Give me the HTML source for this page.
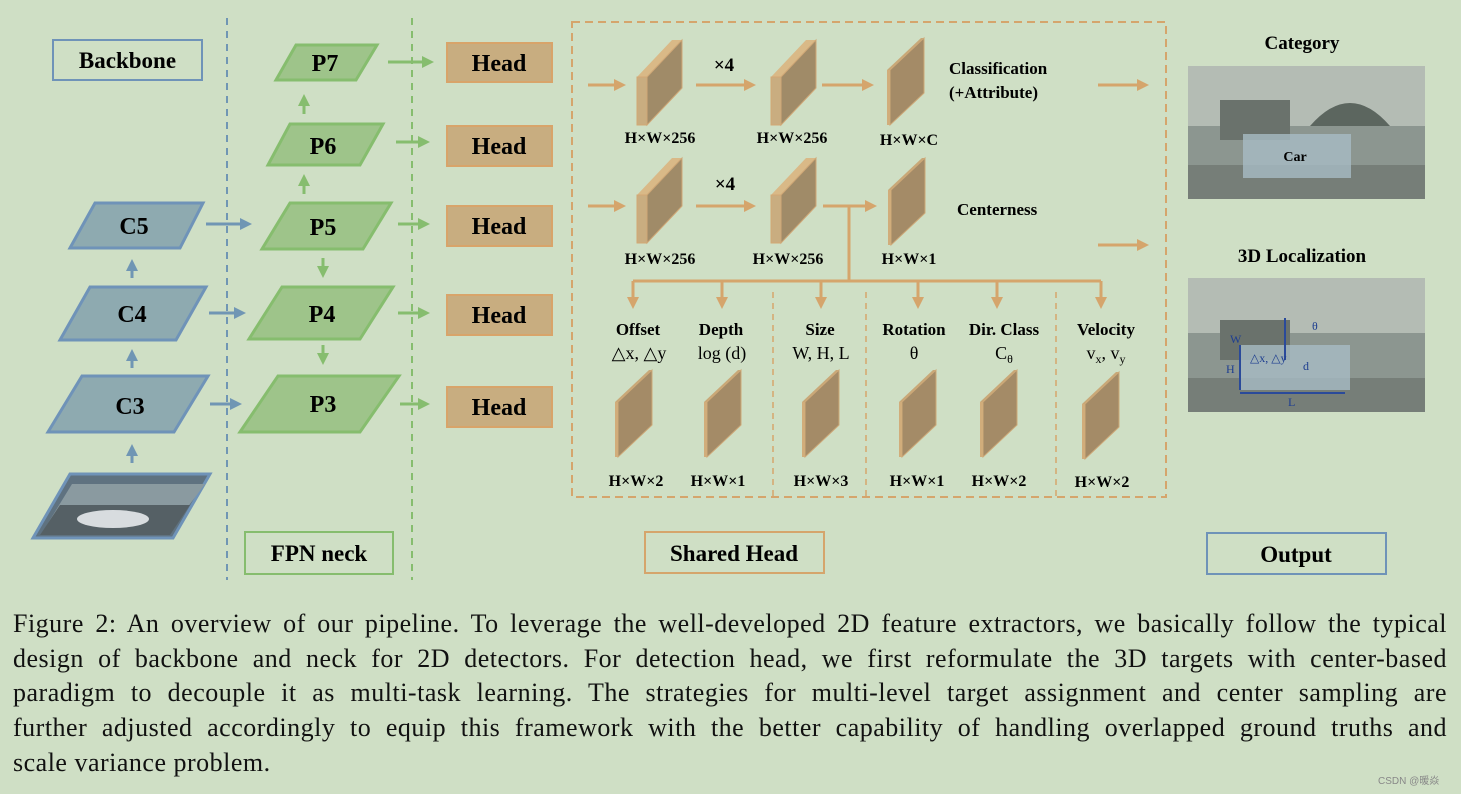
<!DOCTYPE html>
<html><head><meta charset="utf-8"><style>
html,body{margin:0;padding:0;background:#cfdfc5;}
svg{display:block}
.b{font-family:"Liberation Serif",serif;font-weight:bold;}
.cap{position:absolute;left:13px;top:607px;width:1434px;font-family:"Liberation Serif",serif;font-size:26px;line-height:34.7px;color:#111;letter-spacing:0.5px;}
.cap div{text-align:justify;text-align-last:justify;white-space:nowrap;}
.cap div.l{text-align-last:left;}
</style></head><body>
<div style="position:relative;width:1461px;height:794px;overflow:hidden;background:#cfdfc5">
<svg width="1461" height="600" viewBox="0 0 1461 600">
<defs>
<marker id="ga" markerWidth="4" markerHeight="4" refX="2" refY="2" orient="auto" markerUnits="strokeWidth"><path d="M0,0L4,2L0,4z" fill="#86bd6e"/></marker>
<marker id="ba" markerWidth="4" markerHeight="4" refX="2" refY="2" orient="auto" markerUnits="strokeWidth"><path d="M0,0L4,2L0,4z" fill="#7096b4"/></marker>
<marker id="oa" markerWidth="4" markerHeight="4" refX="2" refY="2" orient="auto" markerUnits="strokeWidth"><path d="M0,0L4,2L0,4z" fill="#d5a56c"/></marker>
<g id="pl"><path d="M0,32L3,32L37,0L34,0Z" fill="#c8a878"/><path d="M3,32L37,0L37,55L3,87Z" fill="#a48b67" stroke="#cda877" stroke-width="1"/><path d="M0,32L3,32L3,87L0,87Z" fill="#d1ad7b"/></g>
<g id="pr"><path d="M0,37L10,37L45,0L35,0Z" fill="#d9b987"/><path d="M0,37L10,37L10,85L0,85Z" fill="#c9ad80" stroke="#d2a874"/><path d="M10,37L45,0L45,48L10,85Z" fill="#a08b68" stroke="#cfa776"/></g>
</defs>
<line x1="227" y1="18" x2="227" y2="580" stroke="#7096b4" stroke-width="2" stroke-dasharray="7,6"/>
<line x1="412" y1="18" x2="412" y2="580" stroke="#86bd6e" stroke-width="2" stroke-dasharray="7,6"/>
<rect x="53" y="40" width="149" height="40" fill="none" stroke="#6f93b8" stroke-width="2"/>
<text x="127.5" y="68" class="b" font-size="23" text-anchor="middle">Backbone</text>
<rect x="245" y="532" width="148" height="42" fill="none" stroke="#86bd6e" stroke-width="2"/>
<text x="319" y="561" class="b" font-size="23" text-anchor="middle">FPN neck</text>
<rect x="645" y="532" width="179" height="41" fill="none" stroke="#d5a56c" stroke-width="2"/>
<text x="734" y="561" class="b" font-size="23" text-anchor="middle">Shared Head</text>
<rect x="1207" y="533" width="179" height="41" fill="none" stroke="#6f93b8" stroke-width="2"/>
<text x="1296" y="562" class="b" font-size="23" text-anchor="middle">Output</text>
<g fill="#8eaab0" stroke="#6f93b8" stroke-width="3">
<path d="M70,248L95,203L203,203L180,248Z"/>
<path d="M60,340L90,287L206,287L176,340Z"/>
<path d="M48,432L82,376L208,376L174,432Z"/>
</g>
<path d="M33,538L70,474L210,474L173,538Z" fill="#5f7280" stroke="#6f93b8" stroke-width="3"/>
<path d="M45,528L72,484L205,484L172,528Z" fill="#8a9aa0"/>
<path d="M40,535L60,505L190,505L170,535Z" fill="#556065"/>
<ellipse cx="113" cy="519" rx="36" ry="9" fill="#d8dcdf"/>
<g class="b" font-size="24" text-anchor="middle">
<text x="134" y="234">C5</text><text x="132" y="322">C4</text><text x="130" y="414">C3</text>
</g>
<g stroke="#7096b4" stroke-width="3" fill="none" marker-end="url(#ba)">
<line x1="132" y1="463" x2="132" y2="450"/>
<line x1="132" y1="368" x2="132" y2="355"/>
<line x1="132" y1="278" x2="132" y2="265"/>
<line x1="206" y1="224" x2="246" y2="224"/>
<line x1="209" y1="313" x2="240" y2="313"/>
<line x1="210" y1="404" x2="236" y2="404"/>
</g>
<g fill="#9ec48a" stroke="#86bd6e" stroke-width="3">
<path d="M276,80L296,45L377,45L356,80Z"/>
<path d="M268,165L290,124L383,124L360,165Z"/>
<path d="M262,249L290,203L391,203L363,249Z"/>
<path d="M249,339L282,287L393,287L360,339Z"/>
<path d="M240,432L278,376L399,376L360,432Z"/>
</g>
<g class="b" font-size="24" text-anchor="middle">
<text x="325" y="71">P7</text><text x="323" y="154">P6</text><text x="323" y="235">P5</text><text x="322" y="322">P4</text><text x="323" y="412">P3</text>
</g>
<g stroke="#86bd6e" stroke-width="3" fill="none" marker-end="url(#ga)">
<line x1="304" y1="114" x2="304" y2="100"/>
<line x1="304" y1="194" x2="304" y2="180"/>
<line x1="323" y1="258" x2="323" y2="272"/>
<line x1="323" y1="345" x2="323" y2="359"/>
<line x1="388" y1="62" x2="428" y2="62"/>
<line x1="396" y1="142" x2="424" y2="142"/>
<line x1="398" y1="224" x2="424" y2="224"/>
<line x1="398" y1="313" x2="424" y2="313"/>
<line x1="400" y1="404" x2="424" y2="404"/>
</g>
<g fill="#c8ad80" stroke="#d8a46a" stroke-width="2">
<rect x="447" y="43" width="105" height="39"/><rect x="447" y="126" width="105" height="40"/>
<rect x="447" y="206" width="105" height="40"/><rect x="447" y="295" width="105" height="40"/>
<rect x="447" y="387" width="105" height="40"/>
</g>
<g class="b" font-size="24" text-anchor="middle">
<text x="499" y="71">Head</text><text x="499" y="154">Head</text><text x="499" y="234">Head</text><text x="499" y="323">Head</text><text x="499" y="415">Head</text>
</g>
<rect x="572" y="22" width="594" height="475" fill="none" stroke="#d5a56c" stroke-width="2" stroke-dasharray="8,5"/>
<g stroke="#d5a56c" stroke-dasharray="6,5" stroke-width="1.5">
<line x1="773" y1="292" x2="773" y2="497"/><line x1="866" y1="292" x2="866" y2="497"/><line x1="1056" y1="292" x2="1056" y2="497"/>
</g>
<use href="#pr" x="637" y="40"/><use href="#pr" x="771" y="40"/>
<use href="#pr" x="637" y="158"/><use href="#pr" x="771" y="158"/>
<use href="#pl" x="887" y="38"/><use href="#pl" x="888" y="158"/>
<g stroke="#d5a56c" stroke-width="3" fill="none" marker-end="url(#oa)">
<line x1="588" y1="85" x2="620" y2="85"/><line x1="696" y1="85" x2="750" y2="85"/>
<line x1="822" y1="85" x2="868" y2="85"/><line x1="1098" y1="85" x2="1143" y2="85"/>
<line x1="588" y1="206" x2="620" y2="206"/><line x1="696" y1="206" x2="750" y2="206"/>
<line x1="823" y1="206" x2="871" y2="206"/><line x1="1098" y1="245" x2="1143" y2="245"/>
</g>
<g stroke="#d5a56c" stroke-width="3" fill="none">
<line x1="849" y1="206" x2="849" y2="281"/><line x1="633" y1="281" x2="1101" y2="281"/>
</g>
<g stroke="#d5a56c" stroke-width="3" fill="none" marker-end="url(#oa)">
<line x1="633" y1="281" x2="633" y2="303"/><line x1="722" y1="281" x2="722" y2="303"/>
<line x1="821" y1="281" x2="821" y2="303"/><line x1="918" y1="281" x2="918" y2="303"/>
<line x1="997" y1="281" x2="997" y2="303"/><line x1="1101" y1="281" x2="1101" y2="303"/>
</g>
<use href="#pl" x="615" y="370"/><use href="#pl" x="704" y="370"/><use href="#pl" x="802" y="370"/>
<use href="#pl" x="899" y="370"/><use href="#pl" x="980" y="370"/><use href="#pl" x="1082" y="372"/>
<g class="b" font-size="16" text-anchor="middle">
<text x="660" y="143">H×W×256</text><text x="792" y="143">H×W×256</text><text x="909" y="145">H×W×C</text>
<text x="660" y="264">H×W×256</text><text x="788" y="264">H×W×256</text><text x="909" y="264">H×W×1</text>
<text x="636" y="486">H×W×2</text><text x="718" y="486">H×W×1</text><text x="821" y="486">H×W×3</text>
<text x="917" y="486">H×W×1</text><text x="999" y="486">H×W×2</text><text x="1102" y="487">H×W×2</text>
<text x="724" y="71" font-size="19">×4</text><text x="725" y="190" font-size="19">×4</text>
</g>
<g class="b" font-size="17">
<text x="949" y="74">Classification</text><text x="949" y="98">(+Attribute)</text>
<text x="957" y="215">Centerness</text>
</g>
<g class="b" font-size="17" text-anchor="middle">
<text x="638" y="335">Offset</text><text x="721" y="335">Depth</text><text x="820" y="335">Size</text>
<text x="914" y="335">Rotation</text><text x="1004" y="335">Dir. Class</text><text x="1106" y="335">Velocity</text>
</g>
<g font-family="Liberation Serif,serif" font-size="18" text-anchor="middle">
<text x="639" y="359">△x, △y</text><text x="722" y="359">log (d)</text><text x="821" y="359">W, H, L</text>
<text x="914" y="359">θ</text><text x="1004" y="359">C<tspan font-size="12" dy="4">θ</tspan></text><text x="1106" y="359">v<tspan font-size="12" dy="4">x</tspan><tspan dy="-4">, v</tspan><tspan font-size="12" dy="4">y</tspan></text>
</g>
<text x="1302" y="49" class="b" font-size="19" text-anchor="middle">Category</text>
<text x="1302" y="262" class="b" font-size="19" text-anchor="middle">3D Localization</text>
<g>
<rect x="1188" y="66" width="237" height="133" fill="#8c9690"/>
<rect x="1188" y="66" width="237" height="60" fill="#b4bcb4"/>
<rect x="1220" y="100" width="70" height="40" fill="#6a726c"/>
<path d="M1310,126Q1350,80 1390,126Z" fill="#5c665f"/>
<rect x="1188" y="165" width="237" height="34" fill="#767e78"/>
<rect x="1243" y="134" width="108" height="44" fill="#a8bcc4" opacity="0.8"/>
<text x="1295" y="161" class="b" font-size="14" text-anchor="middle">Car</text>
<rect x="1188" y="278" width="237" height="134" fill="#8c9690"/>
<rect x="1188" y="278" width="237" height="55" fill="#b4bcb4"/>
<rect x="1220" y="320" width="70" height="40" fill="#6a726c"/>
<rect x="1188" y="378" width="237" height="34" fill="#767e78"/>
<rect x="1240" y="345" width="110" height="45" fill="#a8bcc4" opacity="0.8"/>
<g stroke="#2a4a9a" stroke-width="2"><line x1="1240" y1="393" x2="1345" y2="393"/><line x1="1240" y1="345" x2="1240" y2="390"/><line x1="1285" y1="318" x2="1285" y2="360"/></g>
<g font-family="Liberation Serif,serif" font-size="12" fill="#1e3e90"><text x="1230" y="343">W</text><text x="1226" y="373">H</text><text x="1288" y="406">L</text><text x="1250" y="362">△x, △y</text><text x="1303" y="370">d</text><text x="1312" y="330">θ</text></g>
</g>
</svg>
<div class="cap">
<div>Figure 2: An overview of our pipeline. To leverage the well-developed 2D feature extractors, we basically follow the typical</div>
<div>design of backbone and neck for 2D detectors. For detection head, we first reformulate the 3D targets with center-based</div>
<div>paradigm to decouple it as multi-task learning. The strategies for multi-level target assignment and center sampling are</div>
<div>further adjusted accordingly to equip this framework with the better capability of handling overlapped ground truths and</div>
<div class="l">scale variance problem.</div>
</div>
<div style="position:absolute;left:1378px;top:772px;font-family:'Liberation Sans','Noto Sans CJK SC',sans-serif;font-size:10px;color:#888">CSDN @暖焱</div>
</div>
</body></html>
